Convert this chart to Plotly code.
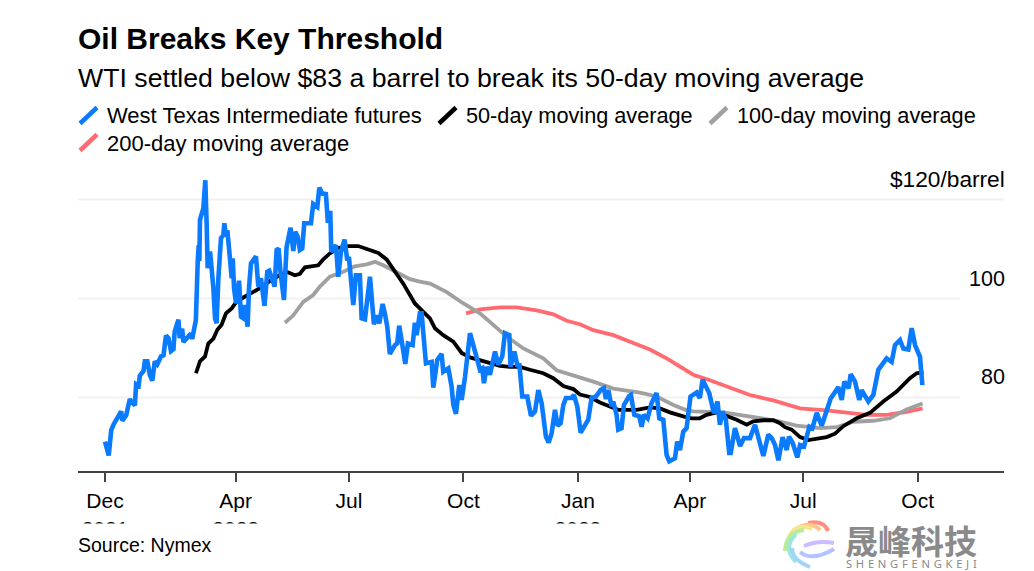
import pandas as pd
import plotly.graph_objects as go

BASE = pd.Timestamp("2021-12-17")

wti_days = [0,3,5,7,13,14,17,20,21,24,25,27,28,31,32,34,36,38,40,42,45,47,49,51,53,55,56,59,60,62,63,67,69,70,73,
 74.5,75.3,75.8,76.3,79,80.6,81.7,82.5,84.4,85.7,87.1,88.4,89.7,91.1,93.2,95.1,95.9,97.2,98.3,100.4,101.8,102.6,103.7,105.3,107.7,109.3,111.2,112.5,114.6,115.7,117.3,121.3,123.2,
 125.3,128.2,130.4,132,136.3,137.9,139.5,141.1,143.8,145.9,149.1,151.3,152.9,154.8,156.6,158.5,160.1,165.5,167.3,170.6,172.2,174.6,177.5,179.1,181,181.8,185.6,187.4,189.6,192.5,194.7,196,199.5,201.6,204.8,206.2,208.9,210.7,212.9,216.1,218.2,220.4,223.1,224.9,226.8,228.9,233,234.8,236.4,238.3,241.3,243.4,247.2,249,250.4,253,
 254.4,257.9,262.5,263.8,267,270.5,271.8,275.9,278.5,279.9,282,284.7,286.6,289.3,293.3,297.3,301.3,303.2,304.5,306.7,309.3,313.4,316,319.2,321.4,324.9,325.9,328.9,331.6,332.9,335.3,339.3,342.3,345.5,348.2,350.9,354.3,356.5,358.9,361.6,363.7,366.1,368.3,370.4,374.9,376.8,379.5,
 382.2,387,388.3,391,394.5,398.2,400.9,402.5,404.4,407.1,408.4,411.1,412.4,415.1,417,421.3,422.6,425.3,429.3,431.2,433.1,436,439.2,443.2,445.4,448.6,451.3,453.4,458,459.8,462,464.7,467.3,470.5,475.4,478,480.2,485.5,489.3,492.2,494.1,496.3,498.9,501.6,
 502.8,506.2,510.3,513.5,518.3,522.3,525.8,529,533,535.7,538.4,541.1,544.5,547.8,549.6,552.6,556.3,558.5,561.7,566,568.4,
 571.9,575.9,579.4,583.1,589.3,592,594.1,597.6,599.2,602.7,606.1,608,613.4,617.4,621.4,626,628.1,632.1,634.8,638.8,641.5,645.5,648.2,650.9,653.5,654.9,656.8]
wti_price = [71.1,68.3,73.4,74.6,77.2,75.3,76.4,79.7,79.2,78.4,82.7,82.4,84.4,85.4,87.3,87.3,84.6,83.4,87.3,86.7,88.3,88.5,92.5,92.0,89.4,89.8,93.3,95.7,92.0,93.9,91.2,92.3,92.9,91.8,95.6,
 107.5,110.8,107.6,115.9,118.2,123.9,114.9,106.1,109.5,106.8,102.1,96.0,95.0,104.1,112.2,112.8,115.2,112.5,113.8,108.1,104.1,108.1,102.1,99.0,103.6,96.3,96.0,98.7,94.3,102.1,107.1,108.5,102.4,
 104.1,98.5,105.4,105.6,102.4,109.8,110.1,105.1,99.7,110.4,114.3,109.6,113.5,112.5,109.8,110.1,115.2,115.2,119.1,118.5,122.4,121.2,121.1,115.3,117.7,109.4,110.8,104.4,109.4,111.9,107.7,108.4,98.7,104.7,104.7,96,95.8,100.3,104.4,94.8,96.6,95,98.9,97,94.3,88.8,90.6,90.9,94.5,91.6,86.8,90.9,90.6,95.1,92.6,97,
 97,86.9,87.2,82,87.6,88.8,85.2,85.9,82.2,78.5,76.7,82.5,79.5,84.2,93,89.3,85.6,85.9,82.9,86.2,84.6,89.3,86.6,88.3,93,92.6,86.2,89.3,86.2,86.9,80.2,80.2,76.3,77.2,81.5,78.8,72.1,70.9,72.8,77.5,74.3,74.8,78.5,79.9,79.9,80.5,78.2,
 72.9,74.8,75.5,79.9,80.2,81.5,81.9,79.7,81.5,78.2,79.2,76.5,73.5,73.8,78.5,80.3,80.5,76.5,76.2,74.1,76.5,75.8,78.9,80.9,75.8,75.5,68.4,67.1,67.7,71.1,69.4,73.1,73.8,80.2,81,79.9,83.6,80.9,76.8,79.2,74.5,77.2,75.5,68.8,
 68.8,73.8,70.2,71.8,71.8,74.5,71.4,68.2,72.5,71.8,70.4,67.3,72,69.4,72.1,70.8,67.9,70.4,70.1,74.1,73.8,
 76.9,74.3,76.7,79.8,82.1,79.5,83.2,81.9,84.7,83.2,79.5,81.5,79.2,80.5,85.6,87.2,87.9,87.2,90.6,91.6,89.9,89.7,94,90.6,89.3,88.2,82.5]

ma50_days = [73.1,76.3,80.4,83,87.1,90.3,93.7,97.2,101.8,105.8,111.2,119.2,124.5,135,145.9,152.6,156.6,160.7,171.4,175.4,180.7,187.4,195.5,203.5,210.2,219.6,226.3,233,239.7,245,249,255.8,261.1,265.1,271.8,279.9,286.6,293.3,301.3,310.7,317.4,325.4,333.4,341.5,352.2,360.2,368.3,376.3,381.6,389.7,397.7,405.7,412.4,427.2,437.9,445.9,453.9,464.7,471.3,478,483.4,491.4,502.2,507.6,515.6,521,529,537,542.4,546.4,551.8,558.5,565.2,571.9,579.9,586.6,593.3,604,614.7,625.4,636.1,646.8,652.2,657.6]
ma50_price = [84.9,87.3,88.3,90.9,91.9,93.7,94.7,97,98,99.4,100.2,101.4,102.1,104,105.4,104.7,105,106.3,106.7,107.9,109.1,110.2,110.6,110.6,110,109.2,107.9,105.6,103,100.7,99,97.3,96,94,92.6,91.3,89,88.1,87.6,86.9,86.4,86.2,86.2,85.6,84.9,83.9,82.3,81.7,80.6,80.1,79,78.2,77.5,77.5,78,77.8,77,76.2,75.8,75.8,76.5,77,76.1,75.5,74.5,75.2,75.4,75.4,74.8,74,73.5,72,71.4,71.6,72,72.7,74.2,75.8,76.9,79.2,81.2,83.9,84.9,85.1]

ma100_days = [144.6,151.3,159.3,167.3,172.7,180.7,191.5,200.8,210.2,216.9,223.6,231.6,239.7,245,253,261.2,274.6,288,301.3,312.1,322.8,336.2,352.2,362.9,376.3,392.4,408.5,429.9,443.3,456.7,467.4,472.7,496.8,520.9,539.7,555.7,574.5,587.9,601.3,617.3,630.7,644.1,657]
ma100_price = [95.1,96.6,99.3,100.7,102.4,104.4,105.4,106.5,106.9,107.4,106.7,105.6,104.7,103.9,103.4,103,101.3,99,97,94.6,92.3,89.9,87.9,85.5,84.5,83.2,81.8,81,80.2,78.5,77.4,77.2,77,76.1,75.3,74.3,73.8,74,75.1,75.3,75.8,77.6,78.8]

ma200_days = [290.1,301.3,317.4,330.8,346.9,360.3,371,381.7,392.4,408.5,424.5,437.9,451.3,462,472.7,486.1,502.2,518.2,537,558.4,579.8,595.9,612,628,644.1,657]
ma200_price = [97,97.8,98.2,98.2,97.6,96.8,95.5,94.8,93.6,92.6,91,89.7,87.9,86.2,84.6,83.5,82,80.5,79.4,77.8,77.4,77,76.5,76.5,77.1,77.8]

tick_dates = ["2021-12-17","2022-04-01","2022-07-01","2022-10-01","2023-01-01","2023-04-01","2023-07-01","2023-10-01"]
tick_text = ["Dec<br>2021","Apr<br>2022","Jul","Oct","Jan<br>2023","Apr","Jul","Oct"]

BLUE, BLACK, GREY, RED = "#0a7aff", "#000000", "#a0a0a0", "#ff6b70"
SANS = "Liberation Sans"
W, H = 1034, 571
L, R, T, B = 78, 30, 170, 100


def dates(days):
    return [BASE + pd.Timedelta(days=d) for d in days]


def px(x):
    return (x - L) / (W - L - R)


def py(y):
    return 1 - (y - T) / (H - T - B)


def label(text, x, y, size, color="#000000", anchor="left", family=SANS, **kw):
    return dict(text=text, x=px(x), y=py(y), xref="paper", yref="paper", xanchor=anchor,
                yanchor="middle", showarrow=False, font=dict(size=size, color=color, family=family),
                borderpad=0, **kw)


def axis_label(text, level, size=21.5):
    return dict(text=text, x=1, y=level, xref="paper", yref="y", xanchor="right", yanchor="bottom",
                yshift=7, xshift=2, showarrow=False, font=dict(size=size, family=SANS, color="#000000"), borderpad=0)


def swatch(x0, y0, color):
    return dict(type="line", xref="paper", yref="paper", x0=px(x0), y0=py(y0), x1=px(x0 + 17), y1=py(y0 - 16),
                line=dict(color=color, width=4.5))


fig = go.Figure()
for name, d, v, c, w in [("200-day moving average", ma200_days, ma200_price, RED, 3.8),
                         ("100-day moving average", ma100_days, ma100_price, GREY, 3.8),
                         ("50-day moving average", ma50_days, ma50_price, BLACK, 3.8),
                         ("West Texas Intermediate futures", wti_days, wti_price, BLUE, 4.6)]:
    fig.add_trace(go.Scatter(x=dates(d), y=v, mode="lines", name=name, showlegend=False,
                             line=dict(color=c, width=w), hoverinfo="skip"))

shapes = [swatch(80, 123.5, BLUE), swatch(439, 123.5, BLACK), swatch(710, 123.5, GREY), swatch(80, 150.5, RED)]
for level, end in [(120, 1), (100, px(960)), (80, px(960))]:
    shapes.append(dict(type="line", xref="paper", yref="y", x0=0, x1=end, y0=level, y1=level, layer="below",
                       line=dict(color="#f1f1f1", width=2)))

# watermark logo arcs
for color, path in [
    ("#ff8f80", (828, 531, 824, 520, 808, 523)),
    ("#ffc48a", (820, 530, 810, 520, 796, 529)),
    ("#f5e58c", (812, 529, 796, 522, 789, 537)),
    ("#b8ec9a", (804, 530, 786, 532, 785, 551)),
    ("#9fe6d8", (796, 534, 782, 548, 796, 562)),
    ("#9fd4ff", (792, 548, 792, 560, 810, 567)),
    ("#b3c3ff", (800, 552, 812, 562, 834, 549)),
    ("#cdbcff", (804, 546, 818, 540, 834, 543)),
]:
    sx, sy, cx, cy, ex, ey = path
    shapes.append(dict(type="path", xref="paper", yref="paper",
                       path=f"M {px(sx)} {py(sy)} Q {px(cx)} {py(cy)} {px(ex)} {py(ey)}",
                       line=dict(color=color, width=4)))

annotations = [
    label("<b>Oil Breaks Key Threshold</b>", 77, 39, 30),
    label("WTI settled below $83 a barrel to break its 50-day moving average", 77, 78, 26.7),
    label("West Texas Intermediate futures", 106, 116, 22),
    label("50-day moving average", 465, 116, 21.7),
    label("100-day moving average", 736, 116, 21.7),
    label("200-day moving average", 106, 143, 22),
    axis_label("$120/barrel", 120, 22.7),
    axis_label("100", 100),
    axis_label("80", 80),
    # white band that cuts the year line of the tick labels, as in the reference
    dict(text=" ", x=0, y=py(523), xref="paper", yref="paper", xanchor="left", yanchor="top", showarrow=False,
         width=600, height=16, bgcolor="#ffffff", borderpad=0, font=dict(size=10)),
    label("Source: Nymex", 77, 545, 19.5),
    label("<b>晟峰科技</b>", 844, 540, 33, color="#8a8a8a", family="Noto Sans CJK SC"),
    label("\u2004".join("SHENGFENGKEJI"), 845, 563, 11.2, color="#8a8a8a", family="Noto Sans"),
]

fig.update_layout(
    width=W, height=H, margin=dict(l=L, r=R, t=T, b=B, pad=0),
    paper_bgcolor="#ffffff", plot_bgcolor="#ffffff", showlegend=False,
    font=dict(family=SANS, color="#000000"),
    shapes=shapes, annotations=annotations,
    xaxis=dict(type="date", range=[BASE - pd.Timedelta(days=21.7), BASE + pd.Timedelta(days=722.4)],
               tickmode="array", tickvals=tick_dates, ticktext=tick_text, ticks="outside", ticklen=9,
               tickwidth=1.5, tickcolor="#444444", showline=True, linecolor="#444444", linewidth=2,
               showgrid=False, zeroline=False, tickfont=dict(size=21, color="#000000", family=SANS),
               ticklabelstandoff=1),
    yaxis=dict(range=[65.15, 125.96], showgrid=False, zeroline=False, showticklabels=False, ticks="", showline=False),
)

fig.write_html("out.html", config=dict(displayModeBar=False),
               post_script="document.body.style.margin='0';document.body.style.overflow='hidden';")
